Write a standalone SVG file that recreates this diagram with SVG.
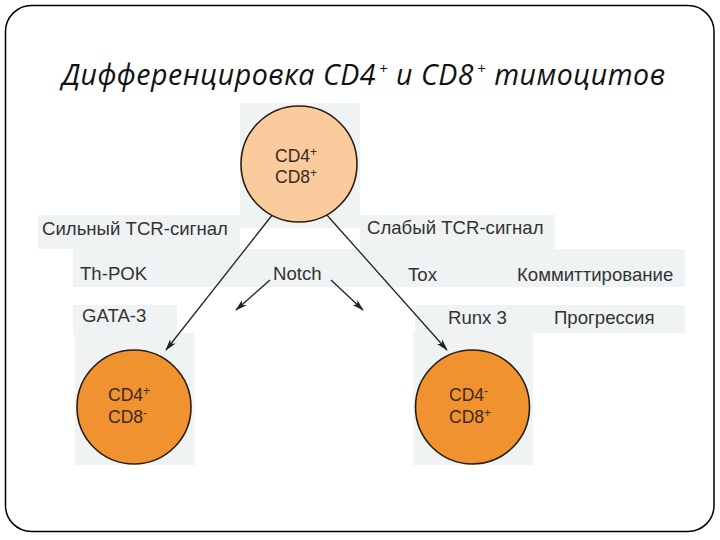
<svg xmlns="http://www.w3.org/2000/svg" width="720" height="540" viewBox="0 0 720 540">
<defs>
<style>
.lbl{font-family:"Liberation Sans",Arial,sans-serif;font-size:18.6px;fill:#333}
.cell{font-family:"Liberation Sans",Arial,sans-serif;font-size:17.5px;fill:#3a2a20}
.sup{font-size:12px}
.pale{fill:#f0f3f3}
.edge{stroke:#222;stroke-width:1.3;fill:none;marker-end:url(#ah)}
.c1{fill:#f9cb9d;stroke:#2b1d12;stroke-width:1.6}
.c2{fill:#f09230;stroke:#2b1d12;stroke-width:1.6}
</style>
<marker id="ah" viewBox="0 0 12 8" refX="11" refY="4" markerWidth="12" markerHeight="8" markerUnits="userSpaceOnUse" orient="auto">
<path d="M0,0.5 L12,4 L0,7.5 L3,4 Z" fill="#222"/>
</marker>
</defs>
<rect x="0" y="0" width="720" height="540" fill="#fff"/>
<rect x="5.5" y="5.5" width="708.5" height="526" rx="26" ry="26" fill="#fff" stroke="#000" stroke-width="1.5"/>
<text x="62" y="85" font-family="'Open Sans','Noto Sans','Liberation Sans',sans-serif" font-style="italic" font-size="28.5" fill="#111" textLength="603" lengthAdjust="spacing">Дифференцировка CD4<tspan dx="3" dy="-11" font-size="15">+</tspan><tspan dy="11"> и CD8</tspan><tspan dx="3" dy="-11" font-size="15">+</tspan><tspan dy="11"> тимоцитов</tspan></text>
<g id="background">
<rect class="pale" x="240" y="103" width="120" height="125"/>
<rect class="pale" x="38" y="215" width="202" height="34"/>
<rect class="pale" x="360" y="215" width="195" height="34"/>
<rect class="pale" x="73" y="249" width="612" height="38"/>
<rect class="pale" x="73" y="305" width="104" height="30"/>
<rect class="pale" x="415" y="305" width="270" height="28"/>
<rect class="pale" x="75" y="333" width="120" height="132"/>
<rect class="pale" x="413" y="333" width="120" height="132"/>
</g>
<g id="connectors">
<line class="edge" x1="273" y1="214" x2="166" y2="350"/>
<line class="edge" x1="326" y1="214" x2="447" y2="350"/>
<line class="edge" x1="270" y1="280" x2="236" y2="310"/>
<line class="edge" x1="331" y1="280" x2="363" y2="310"/>
</g>
<g id="node-dp">
<circle class="c1" cx="299" cy="164" r="58"/>
<text class="cell" x="275" y="162">CD4<tspan class="sup" dy="-6">+</tspan></text>
<text class="cell" x="275" y="183">CD8<tspan class="sup" dy="-6">+</tspan></text>
</g>
<g id="node-cd4">
<circle class="c2" cx="134" cy="407" r="57"/>
<text class="cell" x="108" y="401">CD4<tspan class="sup" dy="-6">+</tspan></text>
<text class="cell" x="108" y="423">CD8<tspan class="sup" dy="-6">-</tspan></text>
</g>
<g id="node-cd8">
<circle class="c2" cx="472.5" cy="407" r="57"/>
<text class="cell" x="449" y="401">CD4<tspan class="sup" dy="-6">-</tspan></text>
<text class="cell" x="449" y="423">CD8<tspan class="sup" dy="-6">+</tspan></text>
</g>
<g id="labels">
<text class="lbl" x="42" y="235">Сильный TCR-сигнал</text>
<text class="lbl" x="367" y="234">Слабый TCR-сигнал</text>
<text class="lbl" x="80" y="280">Th-POK</text>
<text class="lbl" x="273" y="280">Notch</text>
<text class="lbl" x="408" y="281">Tox</text>
<text class="lbl" x="517" y="281">Коммиттирование</text>
<text class="lbl" x="82" y="322">GATA-3</text>
<text class="lbl" x="448" y="324">Runx 3</text>
<text class="lbl" x="554" y="324">Прогрессия</text>
</g>
</svg>
